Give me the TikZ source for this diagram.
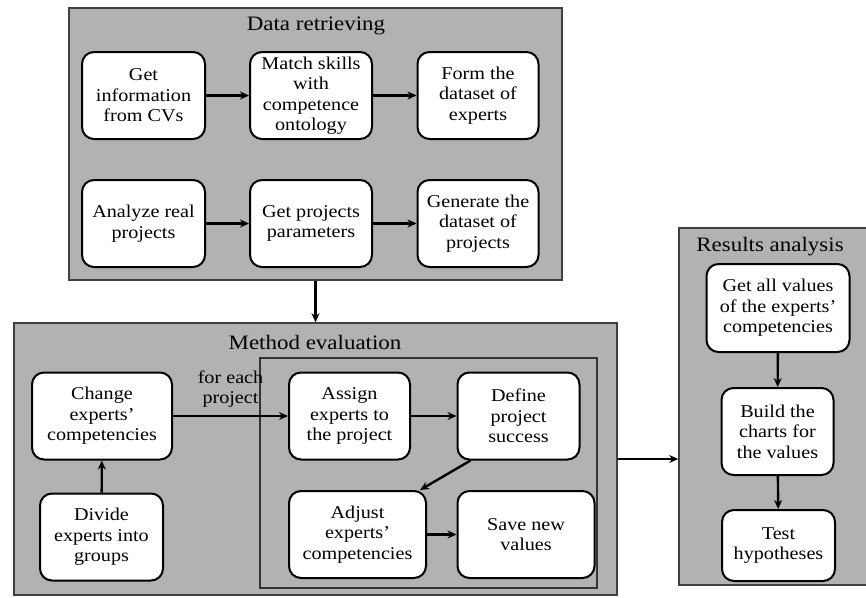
\documentclass[tikz,border=0pt]{standalone}
\usepackage{fontspec}
\setmainfont{Liberation Serif}[FakeStretch=1.12]
\usetikzlibrary{arrows.meta,positioning}
\tikzset{
  box/.style   = {draw, line width=2pt, fill=white, rounded corners=12pt, align=center,
                  inner sep=2pt, minimum height=87pt, font=\fontsize{18}{20.5}\selectfont},
  group/.style = {draw=black!75, line width=1.5pt, fill=black!30, inner sep=0pt},
  loop/.style  = {draw=black!80, line width=1.5pt, inner sep=0pt},
  head/.style  = {font=\fontsize{20.5}{24}\selectfont},
  note/.style  = {align=center, font=\fontsize{18}{20.5}\selectfont},
  flow/.style  = {-{Stealth[length=9pt,width=8pt]}, line width=2.4pt},
}
\begin{document}
\begin{tikzpicture}[x=1pt,y=-1pt]
  \useasboundingbox (0,0) rectangle (866,597);
  % frames
  \node[group, minimum width=493pt, minimum height=272pt] (retr) at (315.5,144) {};
  \node[group, minimum width=603pt, minimum height=272pt] (eval) at (315.5,459) {};
  \node[loop,  minimum width=337pt, minimum height=230pt] (each) at (428.5,473) {};
  \node[group, minimum width=195pt, minimum height=357pt] (res) at (776.5,406.5) {};
  \node[head] (retrT) at (316,26) {Data retrieving};
  \node[head] (evalT) at (315,342) {Method evaluation};
  \node[head] (resT)  at (770,247) {Results analysis};
  % data retrieving
  \node[box, minimum width=123pt] (cvs)   at (143.5,95.5)  {Get\\information\\from CVs};
  \node[box, minimum width=122pt] (match) at (311,95.5)    {Match skills\\with\\competence\\ontology};
  \node[box, minimum width=121pt] (form)  at (478,95.5)    {Form the\\dataset of\\experts};
  \node[box, minimum width=123pt] (real)  at (143.5,223.5) {Analyze real\\projects};
  \node[box, minimum width=122pt] (par)   at (311,223.5)   {Get projects\\parameters};
  \node[box, minimum width=121pt] (gen)   at (478,223.5)   {Generate the\\dataset of\\projects};
  % method evaluation
  \node[box, minimum width=140pt] (change) at (102,416)     {Change\\experts’\\competencies};
  \node[box, minimum width=123pt] (divide) at (101.5,537)   {Divide\\experts into\\groups};
  \node[box, minimum width=121pt] (assign) at (349.5,416)   {Assign\\experts to\\the project};
  \node[box, minimum width=122pt] (define) at (518.5,416)   {Define\\project\\success};
  \node[box, minimum width=137pt] (adjust) at (357.5,534.5) {Adjust\\experts’\\competencies};
  \node[box, minimum width=137pt] (save)   at (526,534.5)   {Save new\\values};
  % results analysis
  \node[box, minimum width=143pt, minimum height=88pt] (all)  at (778,308)     {Get all values\\of the experts’\\competencies};
  \node[box, minimum width=112pt]                      (chart) at (777.5,431.5) {Build the\\charts for\\the values};
  \node[box, minimum width=113pt, minimum height=71pt] (test) at (778.5,545.5)  {Test\\hypotheses};
  % connectors
  \draw[flow] (cvs) -- (match);
  \draw[flow] (match) -- (form);
  \draw[flow] (real) -- (par);
  \draw[flow] (par) -- (gen);
  \draw[flow] (retr.south) -- (eval.north);
  \draw[flow] (divide) -- (change);
  \draw[flow] (change) -- node[note, above=4pt] {for each\\project} (assign);
  \draw[flow] (assign) -- (define);
  \draw[flow] ([xshift=14pt]define.south west) -- ([xshift=-7pt]adjust.north east);
  \draw[flow] (adjust) -- (save);
  \draw[flow] (eval.east) -- (eval.east -| res.west);
  \draw[flow] (all) -- (chart);
  \draw[flow] (chart) -- (test);
\end{tikzpicture}
\end{document}
